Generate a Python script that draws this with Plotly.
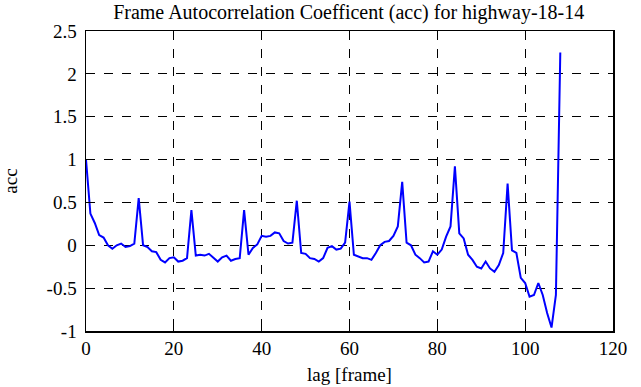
import plotly.graph_objects as go

lags = list(range(0, 109))
acc = [
    1.00, 0.37, 0.26, 0.12, 0.09, 0.00, -0.04, 0.00, 0.02, -0.02,
    -0.01, 0.02, 0.55, 0.00, -0.02, -0.07, -0.08, -0.17, -0.20, -0.15,
    -0.14, -0.19, -0.18, -0.15, 0.41, -0.12, -0.11, -0.12, -0.10, -0.15,
    -0.19, -0.14, -0.12, -0.18, -0.16, -0.15, 0.41, -0.11, -0.03, 0.01,
    0.11, 0.10, 0.11, 0.15, 0.14, 0.05, 0.02, 0.03, 0.52, -0.09,
    -0.10, -0.15, -0.16, -0.19, -0.15, -0.03, -0.01, -0.05, -0.04, 0.03,
    0.51, -0.11, -0.13, -0.15, -0.15, -0.17, -0.09, 0.00, 0.04, 0.05,
    0.11, 0.22, 0.74, 0.03, 0.00, -0.11, -0.15, -0.20, -0.19, -0.07,
    -0.11, -0.05, 0.10, 0.22, 0.92, 0.14, 0.08, -0.11, -0.17, -0.25,
    -0.27, -0.19, -0.27, -0.31, -0.23, -0.09, 0.72, -0.06, -0.09, -0.38,
    -0.44, -0.60, -0.58, -0.44, -0.58, -0.79, -0.96, -0.58, 2.25,
]

x_ticks = [0, 20, 40, 60, 80, 100, 120]
x_ticktext = ["0", "20", "40", "60", "80", "100", "120"]
y_ticks = [-1, -0.5, 0, 0.5, 1, 1.5, 2, 2.5]
y_ticktext = ["-1", "-0.5", "0", "0.5", "1", "1.5", "2", "2.5"]

title_text = "Frame Autocorrelation Coefficent (acc) for highway-18-14"
x_label = "lag [frame]"
y_label = "acc"

font_family = "Liberation Serif"

fig = go.Figure()
fig.add_trace(go.Scatter(x=lags, y=acc, mode="lines",
                         line=dict(color="#0000ff", width=2)))

axis_common = dict(
    showline=True, linecolor="black", linewidth=1.5, mirror="ticks",
    ticks="inside", ticklen=5, tickwidth=1, tickcolor="black",
    showgrid=True, gridcolor="black", gridwidth=1, griddash="dash",
    zeroline=False, automargin=False,
    tickfont=dict(family=font_family, size=19, color="black"),
)

fig.update_layout(
    width=641, height=387,
    margin=dict(l=86, r=28, t=31, b=56),
    paper_bgcolor="white", plot_bgcolor="white",
    showlegend=False,
    font=dict(family=font_family, color="black"),
    title=dict(text=title_text, x=0.544, xanchor="center", y=0.969, yanchor="middle",
               font=dict(family=font_family, size=20, color="black")),
    xaxis=dict(range=[0, 120], tickvals=x_ticks, ticktext=x_ticktext,
               title=dict(text=x_label, standoff=9,
                          font=dict(family=font_family, size=19, color="black")),
               **axis_common),
    yaxis=dict(range=[-1, 2.5], tickvals=y_ticks, ticktext=y_ticktext,
               ticklabelstandoff=4,
               title=dict(text=y_label, standoff=24,
                          font=dict(family=font_family, size=19, color="black")),
               **axis_common),
)

fig.write_html("out.html",
               config={"displayModeBar": False, "staticPlot": True},
               post_script="document.body.style.margin='0';document.body.style.overflow='hidden';")
